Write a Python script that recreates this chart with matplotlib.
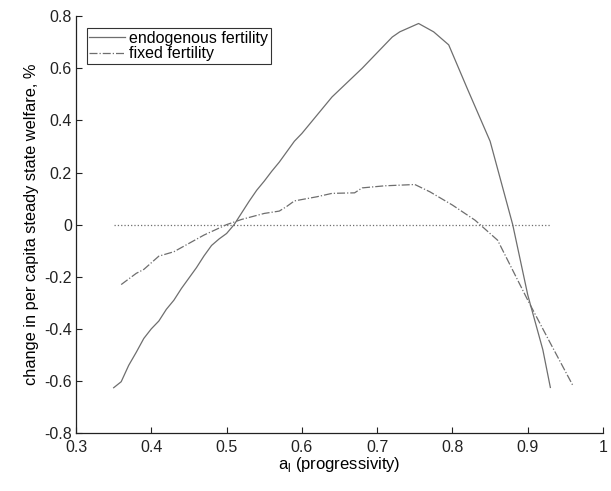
import matplotlib
matplotlib.use("Agg")
import matplotlib.pyplot as plt

plt.rcParams['font.family'] = ['Liberation Sans', 'DejaVu Sans']

# endogenous fertility (solid)
endo_x = [0.35, 0.36, 0.37, 0.38, 0.39, 0.40, 0.41, 0.42, 0.43, 0.44, 0.45, 0.46,
          0.47, 0.48, 0.49, 0.50, 0.51, 0.52, 0.53, 0.54, 0.55, 0.56, 0.57, 0.58,
          0.59, 0.60, 0.62, 0.64, 0.66, 0.68, 0.70, 0.72, 0.73, 0.755, 0.775, 0.795,
          0.82, 0.85, 0.88, 0.90, 0.92, 0.93]
endo_y = [-0.626, -0.603, -0.54, -0.49, -0.437, -0.40, -0.37, -0.325, -0.29, -0.245,
          -0.205, -0.165, -0.12, -0.08, -0.055, -0.034, 0.0, 0.045, 0.09, 0.132,
          0.167, 0.205, 0.24, 0.28, 0.32, 0.35, 0.42, 0.49, 0.545, 0.60, 0.66,
          0.72, 0.74, 0.772, 0.74, 0.69, 0.52, 0.32, 0.0, -0.27, -0.48, -0.625]

# fixed fertility (dash-dot)
fixed_x = [0.36, 0.38, 0.39, 0.41, 0.43, 0.45, 0.47, 0.50, 0.52, 0.55, 0.57, 0.58,
           0.59, 0.62, 0.64, 0.67, 0.68, 0.71, 0.75, 0.77, 0.80, 0.83, 0.86, 0.90,
           0.93, 0.96]
fixed_y = [-0.23, -0.187, -0.172, -0.121, -0.104, -0.072, -0.04, 0.0, 0.02, 0.043,
           0.052, 0.07, 0.091, 0.107, 0.12, 0.122, 0.141, 0.149, 0.154, 0.126,
           0.075, 0.017, -0.06, -0.29, -0.455, -0.618]

zero_x = [0.35, 0.93]
zero_y = [0, 0]

fig = plt.figure(figsize=(6.11, 4.91), dpi=100)
ax = fig.add_axes([0.1244, 0.118, 0.8626, 0.849])

gray = '#6e6e6e'
ax.plot(endo_x, endo_y, '-', color=gray, lw=0.9, label='endogenous fertility')
ax.plot(fixed_x, fixed_y, '-.', color=gray, lw=0.9, label='fixed fertility')
ax.plot(zero_x, zero_y, ':', color=gray, lw=0.9)

ax.set_xlim(0.3, 1.0)
ax.set_ylim(-0.8, 0.8)
ax.set_xticks([0.3, 0.4, 0.5, 0.6, 0.7, 0.8, 0.9, 1.0])
ax.set_xticklabels(['0.3', '0.4', '0.5', '0.6', '0.7', '0.8', '0.9', '1'])
ax.set_yticks([-0.8, -0.6, -0.4, -0.2, 0, 0.2, 0.4, 0.6, 0.8])
ax.set_yticklabels(['-0.8', '-0.6', '-0.4', '-0.2', '0', '0.2', '0.4', '0.6', '0.8'])
ax.tick_params(direction='in', length=4, width=0.8, labelsize=11.5, colors='#222222')
ax.tick_params(axis='x', pad=5)
ax.tick_params(axis='y', pad=3)
ax.spines['top'].set_visible(False)
ax.spines['right'].set_visible(False)
for s in ['left', 'bottom']:
    ax.spines[s].set_linewidth(0.9)
    ax.spines[s].set_color('#222222')

ax.set_xlabel(r'a$_\mathregular{l}$ (progressivity)', fontsize=12, labelpad=0)
ax.set_ylabel('change in per capita steady state welfare, %', fontsize=11.8, labelpad=4)

leg = ax.legend(loc='upper left', bbox_to_anchor=(0.021, 0.971), fontsize=11.5,
                frameon=True, fancybox=False, edgecolor='black', handlelength=2.2,
                handletextpad=0.3, borderpad=0.15, labelspacing=0.05, borderaxespad=0)
leg.get_frame().set_linewidth(0.8)

fig.savefig('out.png', dpi=100)
